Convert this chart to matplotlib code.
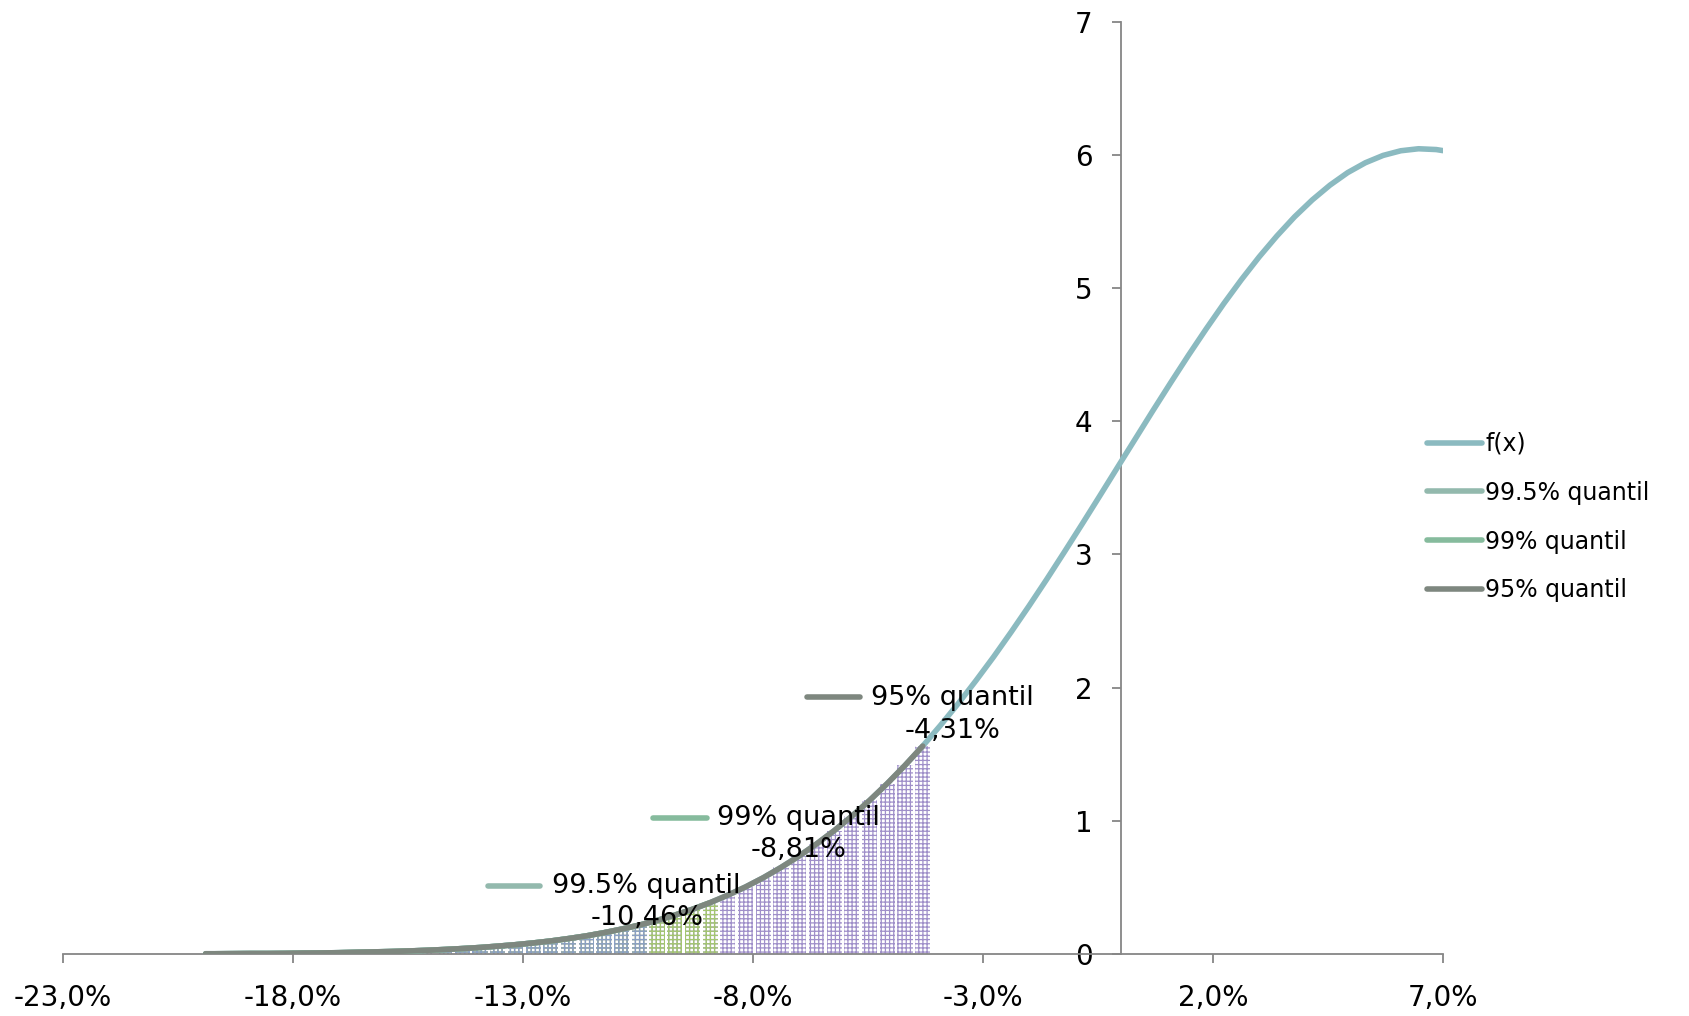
import numpy as np
import matplotlib
matplotlib.use("Agg")
import matplotlib.pyplot as plt
from matplotlib.ticker import FuncFormatter

# --- Dane: gęstość f(x) stopy zwrotu [%] ---
X = [-19.9, -19.71, -19.325, -18.94, -18.555, -18.17, -17.785, -17.4, -17.015, -16.63,
     -16.245, -15.86, -15.475, -15.09, -14.705, -14.32, -13.935, -13.55, -13.165, -12.78,
     -12.395, -12.01, -11.625, -11.24, -10.855, -10.47, -10.085, -9.7, -9.315, -8.93,
     -8.545, -8.16, -7.775, -7.39, -7.005, -6.62, -6.235, -5.85, -5.465, -5.08,
     -4.695, -4.31, -3.925, -3.54, -3.155, -2.77, -2.385, -2.0, -1.615, -1.23,
     -0.845, -0.46, -0.075, 0.31, 0.695, 1.08, 1.465, 1.85, 2.235, 2.62,
     3.005, 3.39, 3.775, 4.16, 4.545, 4.93, 5.315, 5.7, 6.085, 6.47, 6.855, 7.0]
FX = [0.002, 0.002, 0.003, 0.004, 0.004, 0.005, 0.007, 0.008, 0.010, 0.013,
      0.016, 0.019, 0.023, 0.028, 0.034, 0.041, 0.049, 0.059, 0.070, 0.083,
      0.098, 0.116, 0.136, 0.160, 0.187, 0.217, 0.252, 0.292, 0.336, 0.386,
      0.442, 0.504, 0.573, 0.650, 0.734, 0.826, 0.926, 1.035, 1.153, 1.280,
      1.416, 1.561, 1.716, 1.879, 2.051, 2.230, 2.418, 2.612, 2.812, 3.018,
      3.227, 3.439, 3.653, 3.866, 4.079, 4.288, 4.493, 4.691, 4.882, 5.063,
      5.233, 5.390, 5.534, 5.661, 5.772, 5.866, 5.940, 5.995, 6.030, 6.045, 6.039, 6.031]

QUANTILE_NAMES = ["99.5% quantil", "99% quantil", "95% quantil"]
QUANTILE_VALUES = [-10.46, -8.81, -4.31]

X_TICKS = [-23, -18, -13, -8, -3, 2, 7]
Y_TICKS = [0, 1, 2, 3, 4, 5, 6, 7]

# --- Kolory ---
C_FX = "#8bbac0"
C_Q = ["#93b9ad", "#86bb9d", "#7e877f"]
HATCH_Q = ["#8a9fc4", "#a3c66f", "#9f8fc9"]
AXIS_GRAY = "#868686"

plt.rcParams["font.family"] = "DejaVu Sans"
plt.rcParams["hatch.linewidth"] = 0.9

x = np.array(X)
fx = np.array(FX)

fig = plt.figure(figsize=(16.89, 10.16), dpi=100)
ax = fig.add_axes([0.0373, 0.061, 0.817, 0.9178])

# słupki pod krzywą (ogony rozkładu) - od najszerszego obszaru do najwęższego
bar_w = 0.33
for i in [2, 1, 0]:
    m = (x <= QUANTILE_VALUES[i] + 0.01) & (x > -19.8)
    ax.bar(x[m], fx[m], width=bar_w, facecolor="none", edgecolor=HATCH_Q[i],
           linewidth=0, hatch="++++", zorder=2 + (2 - i) * 0.1)

# krzywa gęstości
ax.plot(x, fx, color=C_FX, lw=4, solid_capstyle="round", zorder=5, label="f(x)")
for i in range(3):
    m = x <= QUANTILE_VALUES[i] + 0.01
    ax.plot(x[m], fx[m], color=C_Q[i], lw=4, solid_capstyle="round",
            zorder=6 + i, label=QUANTILE_NAMES[i])

# etykiety kwantyli z kluczem legendy
label_pos = [(-10.31, 0.39, -13.76, -12.63, 0.51),
             (-7.01, 0.90, -10.17, -9.00, 1.02),
             (-3.67, 1.80, -6.82, -5.67, 1.93)]
for i, (tx, ty, k0, k1, ky) in enumerate(label_pos):
    ax.plot([k0, k1], [ky, ky], color=C_Q[i], lw=4, solid_capstyle="round", zorder=10)
    txt = QUANTILE_NAMES[i] + "\n" + f"{QUANTILE_VALUES[i]:.2f}%".replace(".", ",")
    ax.text(tx, ty, txt, ha="center", va="center", fontsize=19.5, linespacing=1.33,
            zorder=11)

# osie
ax.set_xlim(-23, 7)
ax.set_ylim(0, 7)
ax.spines["left"].set_position(("data", 0))
ax.spines["bottom"].set_position(("data", 0))
ax.spines["top"].set_visible(False)
ax.spines["right"].set_visible(False)
for s in ["left", "bottom"]:
    ax.spines[s].set_color(AXIS_GRAY)
    ax.spines[s].set_linewidth(1.3)
ax.set_xticks(X_TICKS)
ax.set_yticks(Y_TICKS)
ax.xaxis.set_major_formatter(FuncFormatter(lambda v, p: f"{v:.1f}%".replace(".", ",")))
ax.tick_params(axis="x", direction="out", length=6.5, width=1.3, color=AXIS_GRAY,
               labelsize=20, pad=15)
ax.tick_params(axis="y", direction="out", length=6.5, width=1.3, color=AXIS_GRAY,
               labelsize=20, pad=14)

handles, labels = ax.get_legend_handles_labels()
fig.legend(handles, labels, loc="center left", bbox_to_anchor=(0.845, 0.491),
           frameon=False, fontsize=17, handlelength=2.3, handletextpad=0.15,
           labelspacing=1.05, borderpad=0, borderaxespad=0)

fig.savefig("out.png", dpi=100)
